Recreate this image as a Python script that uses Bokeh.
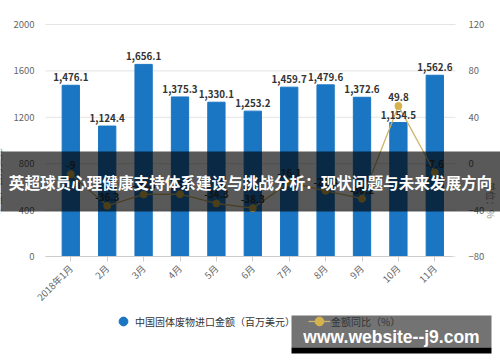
from bokeh.plotting import figure
from bokeh.models import (Range1d, LinearAxis, FixedTicker, BoxAnnotation, Label,
                          Legend, LegendItem, ColumnDataSource)
from bokeh.core.properties import value
from bokeh.embed import file_html
from bokeh.resources import INLINE

months = ["2018年1月", "2月", "3月", "4月", "5月", "6月", "7月", "8月", "9月", "10月", "11月"]
amount = [1476.1, 1124.4, 1656.1, 1375.3, 1330.1, 1253.2, 1459.7, 1479.6, 1372.6, 1154.5, 1562.6]
yoy = [-9, -36.3, -26.5, -26.3, -34.3, -38.3, -16.1, -23.4, -30.2, 49.8, -7.6]
left_ticks = [0, 400, 800, 1200, 1600, 2000]
right_ticks = [-80, -40, 0, 40, 80, 120]
title_text = "英超球员心理健康支持体系建设与挑战分析：现状问题与未来发展方向"
bar_name = "中国固体废物进口金额（百万美元）"
line_name = "金额同比（%）"
site_text = "www.website--j9.com"

FONT = "Noto Sans CJK SC"
BLUE = "#1a75c2"
GOLD = "#cdb46a"
W, H = 500, 362

# pixel layout of the chart area (frame spans the whole canvas)
X0_PX, DX_PX = 70.3, 36.4          # first category centre, spacing
Y0_PX, Y2000_PX = 256, 24          # pixel rows of 0 and 2000 on left axis
LEFT_PX, RIGHT_PX = 45, 455
lpp = 2000 / (Y0_PX - Y2000_PX)    # left units per px
rpp = 200 / (Y0_PX - Y2000_PX)     # right units per px
x_start = -X0_PX / DX_PX
x_end = (W - X0_PX) / DX_PX
xl = (LEFT_PX - X0_PX) / DX_PX
xr = (RIGHT_PX - X0_PX) / DX_PX

xs = list(range(len(months)))
src = ColumnDataSource(dict(
    x=xs, amount=amount, yoy=yoy,
    alab=[f"{v:,.1f}" for v in amount],
    ylab=[f"{v:g}" for v in yoy],
))

p = figure(width=W, height=H, output_backend="svg", toolbar_location=None,
           x_range=Range1d(x_start, x_end),
           y_range=Range1d(-(H - Y0_PX) * lpp, 2000 + Y2000_PX * lpp),
           min_border=0, min_border_left=0, min_border_right=0,
           min_border_top=0, min_border_bottom=0)
p.outline_line_color = None
p.background_fill_color = "white"
p.border_fill_color = "white"
p.extra_y_ranges = {"pct": Range1d(-80 - (H - Y0_PX) * rpp, 120 + Y2000_PX * rpp)}

# grid lines
p.segment(x0=[xl] * len(left_ticks), x1=[xr] * len(left_ticks), y0=left_ticks, y1=left_ticks,
          line_color="#e4e4e4", line_width=1)

p.vbar(x="x", top="amount", width=0.475, source=src, color=BLUE)
line_r = p.line(x="x", y="yoy", source=src, y_range_name="pct", line_color=GOLD, line_width=1.3)
mark_r = p.scatter(x="x", y="yoy", source=src, y_range_name="pct", size=7,
                   fill_color="#d6b24c", line_color="#d6b24c")

p.text(x="x", y="amount", text="alab", source=src, text_align="center", text_baseline="bottom",
       y_offset=-4, text_font_size="9.8px", text_font_style="bold", text_color="#333333",
       text_font=value(FONT))
p.text(x="x", y="yoy", text="ylab", source=src, y_range_name="pct", text_align="center",
       text_baseline="bottom", y_offset=-5, text_font_size="9.8px", text_font_style="bold",
       text_color="#333333", text_font=value(FONT))

# x axis
p.xaxis.fixed_location = 0
p.xaxis.bounds = (xl, (452 - X0_PX) / DX_PX)
p.xaxis.ticker = FixedTicker(ticks=xs)
p.xaxis.major_label_overrides = {i: m for i, m in enumerate(months)}
p.xaxis.major_label_orientation = 0.785
p.xaxis.axis_line_color = "#cccccc"
p.xaxis.major_tick_line_color = "#cccccc"
p.xaxis.major_tick_in = 0
p.xaxis.major_tick_out = 5
p.xaxis.minor_tick_line_color = None
p.xaxis.major_label_text_font_size = "9.5px"
p.xaxis.major_label_text_color = "#666666"
p.xaxis.major_label_text_font = FONT

# left axis
p.yaxis.fixed_location = xl
p.yaxis.ticker = FixedTicker(ticks=left_ticks)
p.yaxis.axis_line_color = None
p.yaxis.major_tick_line_color = None
p.yaxis.minor_tick_line_color = None
p.yaxis.major_label_text_font_size = "9.5px"
p.yaxis.major_label_text_color = "#666666"
p.yaxis.major_label_text_font = FONT
p.yaxis.axis_label = "单位：百万美元"
p.yaxis.axis_label_text_font_size = "9.5px"
p.yaxis.axis_label_text_font_style = "normal"
p.yaxis.axis_label_text_color = "#888888"
p.yaxis.axis_label_text_font = FONT
p.yaxis.axis_label_standoff = 6
p.yaxis.major_label_standoff = 5

p.xgrid.grid_line_color = None
p.ygrid.grid_line_color = None

# right axis
ax2 = LinearAxis(y_range_name="pct", fixed_location=xr, ticker=FixedTicker(ticks=right_ticks),
                 axis_label="单位：%", axis_label_text_font_size="9.5px",
                 axis_label_text_font_style="normal", axis_label_text_color="#888888",
                 axis_label_text_font=FONT, axis_label_orientation=-1.5708,
                 axis_line_color=None,
                 major_tick_line_color=None, minor_tick_line_color=None,
                 major_label_text_font_size="9.5px", major_label_text_color="#666666",
                 major_label_text_font=FONT, major_label_standoff=7, axis_label_standoff=4)
p.add_layout(ax2, "right")

# legend
dummy = p.scatter(x=[-100], y=[-100], size=10, fill_color=BLUE, line_color=BLUE)
legend = Legend(items=[LegendItem(label=bar_name, renderers=[dummy]),
                       LegendItem(label=line_name, renderers=[line_r, mark_r])],
                orientation="horizontal", location=(112, 30), padding=0, margin=0,
                spacing=13, glyph_width=22, glyph_height=22, label_standoff=1,
                label_height=14, label_text_font_size="10px", label_text_color="#333333",
                label_text_font=FONT, border_line_alpha=0, background_fill_alpha=0)
p.add_layout(legend, "center")

# overlay band with title
p.add_layout(BoxAnnotation(left=0, right=W, bottom=H - 211, top=H - 151,
                           left_units="screen", right_units="screen",
                           bottom_units="screen", top_units="screen",
                           fill_color="black", fill_alpha=0.65, line_color=None))
p.add_layout(Label(x=W / 2, y=H - 181, x_units="screen", y_units="screen", text=title_text,
                   text_align="center", text_baseline="middle", text_color="white",
                   text_font_size="15.6px", text_font_style="bold", text_font=FONT))

# watermark box
p.add_layout(BoxAnnotation(left=291, right=491, bottom=H - 347, top=H - 315,
                           left_units="screen", right_units="screen",
                           bottom_units="screen", top_units="screen",
                           fill_color="black", fill_alpha=0.55, line_color=None))
p.add_layout(BoxAnnotation(left=291, right=491, bottom=H - 353, top=H - 347,
                           left_units="screen", right_units="screen",
                           bottom_units="screen", top_units="screen",
                           fill_color="black", fill_alpha=1.0, line_color=None))
p.add_layout(Label(x=391, y=H - 336, x_units="screen", y_units="screen", text=site_text,
                   text_align="center", text_baseline="middle", text_color="white",
                   text_font_size="17.5px", text_font_style="bold", text_font="Liberation Sans"))

open("out.html", "w").write(file_html(p, INLINE))
